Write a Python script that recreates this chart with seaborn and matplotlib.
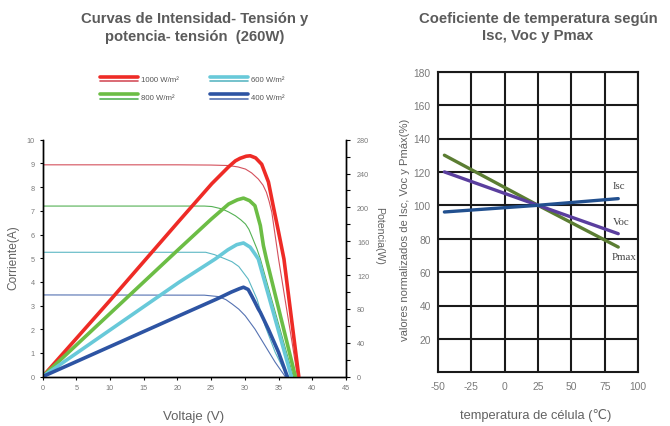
import matplotlib
matplotlib.use("Agg")
import matplotlib.pyplot as plt
import seaborn as sns
from matplotlib.lines import Line2D
from matplotlib.legend_handler import HandlerBase

# ---- data ----
# I-V curves (thin lines), voltage in V, current in A
v_1000 = [0, 20, 25, 27.6, 29, 30.1, 31, 32, 32.7, 33.2, 33.6, 34.0, 34.5, 35.0, 36.0, 37.0, 37.8]
i_1000 = [8.94, 8.94, 8.93, 8.91, 8.85, 8.76, 8.6, 8.34, 8.08, 7.78, 7.4, 6.94, 5.95, 4.97, 3.2, 1.45, 0]
v_800 = [0, 24, 25.1, 26.6, 27.6, 28.6, 29.4, 30.1, 30.6, 31.0, 31.8, 32.3, 33.5, 35.0, 36.2, 37.2]
i_800 = [7.2, 7.2, 7.18, 7.08, 6.95, 6.79, 6.62, 6.44, 6.22, 5.95, 5.39, 4.97, 3.75, 2.23, 1.01, 0]
v_600 = [0, 24.2, 25.5, 27.1, 28.1, 29.1, 30.5, 31.8, 33.0, 34.5, 35.5, 36.5]
i_600 = [5.25, 5.25, 5.15, 4.97, 4.85, 4.65, 4.12, 3.28, 2.15, 1.03, 0.45, 0]
v_400 = [0, 24, 26.1, 27.2, 28.1, 29.1, 30.06, 31.5, 33.0, 34.5, 36.0]
i_400 = [3.45, 3.44, 3.38, 3.25, 3.07, 2.85, 2.57, 2.01, 1.31, 0.61, 0]

# P-V curves (thick lines), power in W
pv_1000 = [0, 10, 20.25, 25.1, 27.6, 28.6, 29.3, 30.2, 30.8, 31.6, 32.5, 33.5, 34.2, 35.0, 35.8, 38.0]
p_1000 = [0, 90, 184, 228, 248, 255, 258, 260.5, 261, 258.5, 251, 230, 202, 171, 139, 0]
pv_800 = [0, 20.25, 25, 27.6, 28.9, 29.8, 30.7, 31.5, 32.3, 32.75, 33.2, 37.5]
p_800 = [0, 151, 186, 204, 209, 211, 208, 202, 178.5, 155, 139, 0]
pv_600 = [0, 20.25, 25.6, 27.5, 28.8, 29.8, 30.8, 31.5, 32.0, 36.9]
p_600 = [0, 111.6, 139, 150, 156, 158, 153, 145, 139, 0]
pv_400 = [0, 20.25, 25.9, 28.0, 29.2, 29.8, 30.5, 31.0, 31.5, 32.0, 32.3, 33.5, 35.0, 36.3]
p_400 = [0, 72, 92, 100, 104, 105.7, 103, 95.7, 88, 80, 76, 56, 28.8, 0]

irradiance = ["1000", "800", "600", "400"]

# temperature coefficients
temp = [-45, 25, 85]
isc = [96, 100, 104]
voc = [120, 100, 83]
pmax = [130, 100, 75]

# ---- style ----
sns.set_theme(style="white")
plt.rcParams['font.family'] = ['Liberation Sans', 'DejaVu Sans']
plt.rcParams['axes.unicode_minus'] = False

thick_cols = ['#ee2b26', '#6cbd45', '#68c9d9', '#2d54a3']
thin_cols = ['#d4505c', '#55b155', '#5cb8c4', '#5572b2']
label_col = '#626262'
tick_col = '#7a7a7a'

fig = plt.figure(figsize=(6.7, 4.27), dpi=100)

# ---------------- left chart ----------------
ax = fig.add_axes([42.5 / 670, 1 - 377.7 / 427, 303.5 / 670, 237 / 427])
ax2 = ax.twinx()

iv = [(v_1000, i_1000), (v_800, i_800), (v_600, i_600), (v_400, i_400)]
pv = [(pv_1000, p_1000), (pv_800, p_800), (pv_600, p_600), (pv_400, p_400)]

handles = []
for k in range(4):
    sns.lineplot(x=iv[k][0], y=iv[k][1], ax=ax, color=thin_cols[k], lw=0.8,
                 sort=False, legend=False)
    sns.lineplot(x=pv[k][0], y=pv[k][1], ax=ax2, color=thick_cols[k], lw=2.6,
                 sort=False, legend=False)
    handles.append((thick_cols[k], thin_cols[k]))

ax.set_xlim(0, 45)
ax.set_ylim(0, 10)
ax2.set_ylim(0, 280)
ax.set_xticks(range(0, 46, 5))
ax.set_yticks(range(0, 11))
ax.set_yticks(range(1, 10), minor=True)
ax.yaxis.grid(True, which='minor', color='black', lw=1.0)
ax.set_axisbelow(True)
ax2.set_yticks(range(0, 281, 40))
ax2.set_yticks(range(20, 281, 40), minor=True)

ax.tick_params(axis='both', which='major', direction='out', length=2.5, width=0.8,
               color='black', labelsize=5.2, labelcolor=tick_col, pad=3,
               left=True, bottom=True)
ax.tick_params(axis='y', which='minor', length=0)
ax2.tick_params(axis='y', which='both', direction='out', length=3, width=0.8,
                color='black', labelsize=5.2, labelcolor=tick_col, pad=5, right=True)

for a in (ax, ax2):
    a.spines['top'].set_visible(False)
    for s in ('left', 'right', 'bottom'):
        a.spines[s].set_color('black')
        a.spines[s].set_linewidth(1.0)
ax.set_xlabel('')
ax.set_ylabel('')
ax2.set_ylabel('')

ax.set_title("Curvas de Intensidad- Tensión y\npotencia- tensión  (260W)",
             fontsize=10.7, fontweight='bold', color='#5b5b5b', pad=72, linespacing=1.3)

fig.text(194 / 670, 1 - 417 / 427, "Voltaje (V)", ha='center', va='center',
         fontsize=9.5, color=label_col)
fig.text(13 / 670, 1 - 258 / 427, "Corriente(A)", ha='center', va='center',
         rotation=90, fontsize=8.6, color=label_col)
fig.text(379 / 670, 1 - 236 / 427, "Potencia(W)", ha='center', va='center',
         rotation=-90, fontsize=7.6, color=label_col)


class DoubleLine(HandlerBase):
    def create_artists(self, legend, orig_handle, xdescent, ydescent,
                       width, height, fontsize, trans):
        c_thick, c_thin = orig_handle
        x = [-xdescent, -xdescent + width]
        y0 = height / 2 - ydescent
        top = Line2D(x, [y0 + 1.6] * 2, color=c_thick, lw=2.6, transform=trans)
        bot = Line2D(x, [y0 - 1.9] * 2, color=c_thin, lw=1.2, transform=trans)
        return [top, bot]


fig.legend(handles, [f"{g} W/m²" for g in irradiance], handler_map={tuple: DoubleLine()},
           loc='upper left', bbox_to_anchor=(100 / 670, 1 - 77 / 427), ncol=2,
           frameon=False, fontsize=5.6, labelcolor='#555555', handlelength=4.9,
           handletextpad=0.4, columnspacing=4.0, labelspacing=1.3, borderpad=0,
           borderaxespad=0)

# ---------------- right chart ----------------
bx = fig.add_axes([437.7 / 670, 1 - 373.3 / 427, 200.6 / 670, 300.6 / 427])
sns.lineplot(x=temp, y=pmax, ax=bx, color='#5b7d32', lw=2.4, legend=False)
sns.lineplot(x=temp, y=voc, ax=bx, color='#5a3e9e', lw=2.4, legend=False)
sns.lineplot(x=temp, y=isc, ax=bx, color='#22508f', lw=2.4, legend=False)

bx.set_xlim(-50, 100)
bx.set_ylim(0, 180)
bx.set_xticks(range(-50, 101, 25))
bx.set_yticks(range(20, 181, 20))
bx.grid(True, color='#1a1a1a', lw=1.5)
bx.set_axisbelow(True)
for s in bx.spines.values():
    s.set_color('#1a1a1a')
    s.set_linewidth(1.5)
bx.tick_params(axis='both', length=0, labelsize=7.4, labelcolor=tick_col)
bx.tick_params(axis='x', pad=6)
bx.tick_params(axis='y', pad=5)
bx.set_xlabel('')
bx.set_ylabel('')

for name, xt, yt in [("Isc", 85.6, 111.6), ("Voc", 87.1, 90), ("Pmax", 89.7, 69.6)]:
    bx.text(xt, yt, name, ha='center', va='center', fontsize=7.8,
            family='Liberation Serif', color='#444444')

bx.set_title("Coeficiente de temperatura según\nIsc, Voc y Pmax",
             fontsize=10.7, fontweight='bold', color='#5b5b5b', pad=23.5, linespacing=1.3)

fig.text(405 / 670, 1 - 230 / 427, "valores normalizados de Isc, Voc y Pmáx(%)",
         ha='center', va='center', rotation=90, fontsize=8.1, color=label_col)
fig.text(536 / 670, 1 - 416 / 427, "temperatura de célula (℃)", ha='center', va='center',
         fontsize=9.3, color=label_col, family=['Liberation Sans', 'DejaVu Sans'])

fig.savefig("out.png", dpi=100)
